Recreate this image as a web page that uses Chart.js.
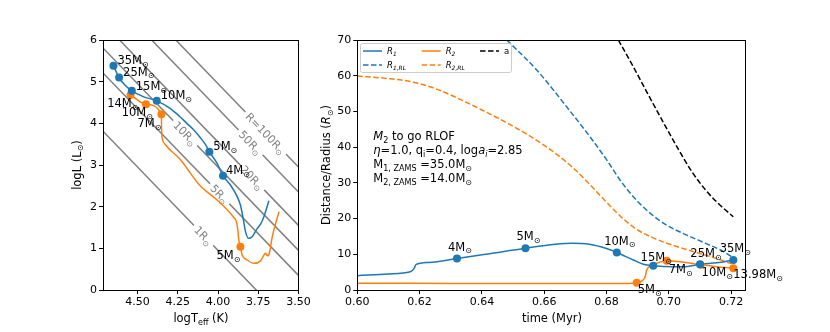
<!DOCTYPE html>
<html>
<head>
<meta charset="utf-8">
<script src="https://cdn.jsdelivr.net/npm/chart.js@4.4.1/dist/chart.umd.min.js"></script>
<style>
  body { margin: 0; background: #fff; }
  #wrap { position: relative; width: 830px; height: 332px; }
  canvas { position: absolute; top: 0; }
</style>
</head>
<body>
<div id="wrap">
  <canvas id="hrChart" width="330" height="332" style="left:0"></canvas>
  <canvas id="radChart" width="520" height="332" style="left:310px"></canvas>
</div>
<script>
/* ===== DATA: left panel (HR diagram) ===== */
const hrTicksX = [4.5, 4.25, 4.0, 3.75, 3.5];
const hrTicksY = [0, 1, 2, 3, 4, 5, 6];

// star 1 track (logTeff, logL)
const hr1T = [4.650, 4.615, 4.579, 4.536, 4.465, 4.381, 4.298, 4.240, 4.194, 4.150, 4.111, 4.080, 4.054, 4.006, 3.969, 3.923, 3.881, 3.861, 3.844, 3.829, 3.812, 3.788, 3.756, 3.736, 3.715, 3.684];
const hr1L = [5.38, 5.10, 4.92, 4.78, 4.64, 4.54, 4.36, 4.17, 4.00, 3.84, 3.66, 3.50, 3.32, 3.04, 2.74, 2.52, 2.24, 2.04, 1.72, 1.40, 1.24, 1.28, 1.48, 1.58, 1.76, 2.14];
const hr1MarkT = [4.650, 4.615, 4.536, 4.381, 4.054, 3.969];
const hr1MarkL = [5.38, 5.10, 4.78, 4.54, 3.32, 2.74];
const hr1MarkM = ['35', '25', '15', '10', '5', '4'];

// star 2 track
const hr2T = [4.544, 4.448, 4.352, 4.351, 4.347, 4.325, 4.236, 4.111, 4.006, 3.902, 3.886, 3.877, 3.871, 3.861, 3.850, 3.819, 3.777, 3.736, 3.704, 3.692, 3.680, 3.663, 3.621];
const hr2L = [4.68, 4.46, 4.22, 3.84, 3.64, 3.48, 3.14, 2.50, 2.16, 1.74, 1.64, 1.44, 1.20, 1.04, 0.84, 0.72, 0.64, 0.70, 0.88, 0.82, 0.90, 1.28, 1.88];
const hr2MarkT = [4.544, 4.448, 4.352, 3.861];
const hr2MarkL = [4.68, 4.46, 4.22, 1.04];
const hr2MarkM = ['14', '10', '7', '5'];

// constant-radius lines: logL at the two edges of the plot
const radii = ['1', '5', '10', '20', '50', '100'];
const radEdgeT = [4.715, 3.5];
const radLeftL = [3.81, 5.21, 5.81, 6.41, 7.21, 7.81];
const radRightL = [-1.05, 0.35, 0.95, 1.55, 2.35, 2.95];
const radLabelT = [4.09, 3.99, 4.204, 3.788, 3.798, 3.704];

/* ===== DATA: right panel (distance / radius vs time) ===== */
const tTicks = [0.60, 0.62, 0.64, 0.66, 0.68, 0.70, 0.72];
const rTicks = [0, 10, 20, 30, 40, 50, 60, 70];

const r1T = [0.600, 0.610, 0.617, 0.6183, 0.6188, 0.623, 0.632, 0.642, 0.654, 0.6635, 0.669, 0.6745, 0.680, 0.6833, 0.6886, 0.6918, 0.695, 0.7014, 0.706, 0.710, 0.7154, 0.7207];
const r1V = [4.0, 4.5, 5.1, 6.1, 7.1, 7.7, 8.8, 10.1, 11.7, 12.8, 13.1, 12.8, 11.6, 10.5, 8.4, 7.2, 6.8, 6.5, 6.6, 7.2, 7.6, 8.4];
const rl1T = [0.648, 0.6576, 0.6672, 0.6747, 0.680, 0.685, 0.690, 0.695, 0.700, 0.706, 0.712, 0.717, 0.7207];
const rl1V = [70, 61.6, 51.3, 42.9, 36.5, 30.0, 24.8, 20.8, 17.8, 15.3, 13.0, 11.0, 9.0];

const r2T = [0.600, 0.630, 0.660, 0.686, 0.6897, 0.6913, 0.6924, 0.6929, 0.6940, 0.6961, 0.6993, 0.7047, 0.7102, 0.7154, 0.7207];
const r2V = [1.9, 1.85, 1.8, 1.8, 2.0, 2.5, 3.7, 5.6, 6.7, 7.5, 8.2, 7.8, 7.1, 6.5, 6.1];
const rl2T = [0.600, 0.610, 0.618, 0.625, 0.632, 0.640, 0.648, 0.656, 0.664, 0.670, 0.675, 0.680, 0.685, 0.690, 0.695, 0.700, 0.705, 0.710, 0.715, 0.720];
const rl2V = [59.9, 59.2, 58.2, 56.4, 53.8, 50.4, 46.8, 42.8, 38.0, 33.6, 29.2, 24.6, 20.2, 16.8, 14.6, 12.9, 11.5, 10.2, 8.9, 7.4];

const aT = [0.6838, 0.6886, 0.6929, 0.6982, 0.7030, 0.7075, 0.7120, 0.7164, 0.7207];
const aV = [70, 62.5, 55.5, 47.0, 39.5, 33.0, 27.8, 23.8, 20.5];

const m1T = [0.632, 0.654, 0.6833, 0.695, 0.710, 0.7207];
const m1V = [8.8, 11.7, 10.5, 6.8, 7.2, 8.4];
const m1M = ['4', '5', '10', '15', '25', '35'];
const m2T = [0.6897, 0.6993, 0.7102, 0.7207];
const m2V = [2.0, 8.2, 7.1, 6.1];
const m2M = ['5', '7', '10', '13.98'];

/* ===== helpers ===== */
const FONT = '"DejaVu Sans", sans-serif';
const C0 = '#1f77b4', C1 = '#ff7f0e', GREY = '#808080';
const TXT = 11.5;
const pts = (xs, ys) => xs.map((x, i) => ({ x, y: ys[i] }));
const massParts = m => [{ t: m + 'M' }, { t: '\u2299', s: 1 }];

// draw text made of parts (italic / subscript), y is the middle of the main text
function rich(ctx, parts, x, y, size, align, color) {
  const base = y + size * 0.36;
  let w = 0;
  const fonts = parts.map(p => {
    const fs = p.s ? size * 0.7 : size;
    const f = (p.i ? 'italic ' : '') + fs + 'px ' + FONT;
    ctx.font = f;
    const pw = ctx.measureText(p.t).width;
    w += pw;
    return { f, pw };
  });
  let cx = align === 'center' ? x - w / 2 : align === 'right' ? x - w : x;
  ctx.fillStyle = color || '#000';
  ctx.textAlign = 'left';
  ctx.textBaseline = 'alphabetic';
  parts.forEach((p, i) => {
    ctx.font = fonts[i].f;
    ctx.fillText(p.t, cx, p.s ? base + size * 0.24 : base);
    cx += fonts[i].pw;
  });
  return w;
}

function axis(min, max, ticks, fmt, size, reverse) {
  return {
    type: 'linear', min, max, reverse: !!reverse,
    afterBuildTicks: s => { s.ticks = ticks.map(v => ({ value: v })); },
    afterFit: s => { if (s.isHorizontal()) s.height = size; else s.width = size; },
    grid: { drawOnChartArea: false, drawTicks: true, tickLength: 4, color: '#000', lineWidth: 1 },
    border: { display: false },
    ticks: { color: '#000', font: { family: FONT, size: 11 }, padding: 2, autoSkip: false, maxRotation: 0, callback: fmt }
  };
}

const framePlugin = {
  id: 'frame',
  afterDraw(chart) {
    const a = chart.chartArea, ctx = chart.ctx;
    ctx.save();
    ctx.strokeStyle = '#000';
    ctx.lineWidth = 1;
    ctx.strokeRect(Math.round(a.left) + 0.5, Math.round(a.top) + 0.5, Math.round(a.right - a.left) - 1, Math.round(a.bottom - a.top));
    ctx.restore();
  }
};

// mass labels beside the markers
const massLabelPlugin = {
  id: 'massLabels',
  afterDatasetsDraw(chart) {
    const ctx = chart.ctx;
    chart.data.datasets.forEach((ds, di) => {
      if (!ds.masses) return;
      const meta = chart.getDatasetMeta(di);
      ctx.save();
      ds.masses.forEach((m, i) => {
        const p = meta.data[i];
        const off = ds.offsets[i];
        rich(ctx, massParts(m), p.x + off[0], p.y + off[1], TXT, ds.align, '#000');
      });
      ctx.restore();
    });
  }
};

const lineBase = { borderWidth: 1.5, pointRadius: 0, fill: false, cubicInterpolationMode: 'monotone' };
const markBase = { showLine: false, pointRadius: 4, pointBorderWidth: 0, order: -1 };

/* ===== LEFT: HR diagram ===== */
const hrDatasets = [
  { ...lineBase, data: pts(hr1T, hr1L), borderColor: C0 },
  { ...lineBase, data: pts(hr2T, hr2L), borderColor: C1 },
  { ...markBase, data: pts(hr1MarkT, hr1MarkL), pointBackgroundColor: C0, masses: hr1MarkM, align: 'left',
    offsets: [[4, -6], [4, -6], [4, -5], [4, -6], [4, -6], [3, -6]] },
  { ...markBase, data: pts(hr2MarkT, hr2MarkL), pointBackgroundColor: C1, masses: hr2MarkM, align: 'right',
    offsets: [[8, 8], [7, 8], [0, 9], [0, 8]] }
];
const firstGrey = hrDatasets.length;
radii.forEach((r, i) => {
  hrDatasets.push({
    data: [{ x: radEdgeT[0], y: radLeftL[i] }, { x: radEdgeT[1], y: radRightL[i] }],
    borderColor: GREY, borderWidth: 1.5, pointRadius: 0, order: 1,
    radiusLabel: r, labelT: radLabelT[i]
  });
});

// gaps + labels on the constant radius lines, drawn right after the grey lines
const radiusLabelPlugin = {
  id: 'radiusLabels',
  afterDatasetDraw(chart, args) {
    if (args.index !== firstGrey) return;
    const ctx = chart.ctx, xs = chart.scales.x;
    ctx.save();
    chart.data.datasets.forEach((ds, di) => {
      if (!ds.radiusLabel) return;
      const meta = chart.getDatasetMeta(di);
      const p0 = meta.data[0], p1 = meta.data[1];
      const ang = Math.atan2(p1.y - p0.y, p1.x - p0.x);
      const cx = xs.getPixelForValue(ds.labelT);
      const cy = p0.y + (cx - p0.x) * (p1.y - p0.y) / (p1.x - p0.x);
      const parts = ds.radiusLabel === '100'
        ? [{ t: 'R=100R' }, { t: '\u2299', s: 1 }]
        : [{ t: ds.radiusLabel + 'R' }, { t: '\u2299', s: 1 }];
      ctx.save();
      ctx.translate(cx, cy);
      ctx.rotate(ang);
      ctx.font = '11px ' + FONT;
      const w = ctx.measureText(parts[0].t).width + 7;
      ctx.fillStyle = '#fff';
      ctx.fillRect(-w / 2 - 3, -5, w + 6, 10);
      rich(ctx, parts, 0, 0, 11, 'center', GREY);
      ctx.restore();
    });
    ctx.restore();
  }
};

const hrTitles = {
  id: 'hrTitles',
  afterDraw(chart) {
    const ctx = chart.ctx;
    ctx.save();
    rich(ctx, [{ t: 'logT' }, { t: 'eff', s: 1 }, { t: ' (K)' }], 201, 318, TXT, 'center');
    ctx.translate(76.5, 165);
    ctx.rotate(-Math.PI / 2);
    rich(ctx, [{ t: 'logL (L' }, { t: '\u2299', s: 1 }, { t: ')' }], 0, 0, TXT, 'center');
    ctx.restore();
  }
};

new Chart(document.getElementById('hrChart'), {
  type: 'line',
  data: { datasets: hrDatasets },
  options: {
    responsive: false, animation: false, events: [],
    layout: { padding: { top: 40, right: 31.5, left: 0, bottom: 0 } },
    plugins: { legend: { display: false }, tooltip: { enabled: false } },
    scales: {
      x: axis(3.5, 4.715, hrTicksX, v => v.toFixed(2), 42, true),
      y: axis(0, 6, hrTicksY, v => String(v), 103)
    }
  },
  plugins: [radiusLabelPlugin, massLabelPlugin, framePlugin, hrTitles]
});

/* ===== RIGHT: distance / radius vs time ===== */
const radDatasets = [
  { ...lineBase, label: 'R1', data: pts(r1T, r1V), borderColor: C0 },
  { ...lineBase, label: 'R1,RL', data: pts(rl1T, rl1V), borderColor: C0, borderDash: [5.5, 2.5] },
  { ...lineBase, label: 'R2', data: pts(r2T, r2V), borderColor: C1 },
  { ...lineBase, label: 'R2,RL', data: pts(rl2T, rl2V), borderColor: C1, borderDash: [5.5, 2.5] },
  { ...lineBase, label: 'a', data: pts(aT, aV), borderColor: '#000', borderDash: [5.5, 2.5] },
  { ...markBase, data: pts(m1T, m1V), pointBackgroundColor: C0, masses: m1M, align: 'center',
    offsets: [[3, -12], [3, -12], [3, -12], [3, -9], [6, -11], [2, -12]] },
  { ...markBase, data: pts(m2T, m2V), pointBackgroundColor: C1, masses: m2M, align: 'left',
    offsets: [[1, 6], [2, 8], [1, 7], [0, 6]] }
];

const legendParts = [
  [{ t: 'R', i: 1 }, { t: '1', s: 1, i: 1 }],
  [{ t: 'R', i: 1 }, { t: '1,RL', s: 1, i: 1 }],
  [{ t: 'R', i: 1 }, { t: '2', s: 1, i: 1 }],
  [{ t: 'R', i: 1 }, { t: '2,RL', s: 1, i: 1 }],
  [{ t: 'a' }]
];

const radDeco = {
  id: 'radDeco',
  afterDraw(chart) {
    const ctx = chart.ctx;
    ctx.save();
    // legend, 3 columns filled top to bottom
    const bx = 50.5, by = 43.5, bw = 151, bh = 29;
    ctx.beginPath();
    ctx.roundRect(bx, by, bw, bh, 2);
    ctx.fillStyle = 'rgba(255,255,255,0.8)';
    ctx.fill();
    ctx.strokeStyle = '#cccccc';
    ctx.lineWidth = 1;
    ctx.stroke();
    const colX = [53, 111.7, 170], rowY = [51, 65];
    legendParts.forEach((parts, i) => {
      const ds = chart.data.datasets[i];
      const x = colX[Math.floor(i / 2)], y = rowY[i % 2];
      ctx.beginPath();
      ctx.setLineDash(ds.borderDash || []);
      ctx.strokeStyle = ds.borderColor;
      ctx.lineWidth = 1.5;
      ctx.moveTo(x, y);
      ctx.lineTo(x + 19, y);
      ctx.stroke();
      ctx.setLineDash([]);
      rich(ctx, parts, x + 24, y, 8.5, 'left');
    });
    // text block
    const tx = 63.3;
    rich(ctx, [{ t: 'M', i: 1 }, { t: '2', s: 1 }, { t: ' to go RLOF' }], tx, 136, TXT, 'left');
    rich(ctx, [{ t: '\u03b7', i: 1 }, { t: '=1.0, q' }, { t: 'i', s: 1 }, { t: '=0.4, log' }, { t: 'a', i: 1 }, { t: 'i', s: 1, i: 1 }, { t: '=2.85' }], tx, 150, TXT, 'left');
    rich(ctx, [{ t: 'M' }, { t: '1, ZAMS', s: 1 }, { t: ' =35.0M' }, { t: '\u2299', s: 1 }], tx, 164, TXT, 'left');
    rich(ctx, [{ t: 'M' }, { t: '2, ZAMS', s: 1 }, { t: ' =14.0M' }, { t: '\u2299', s: 1 }], tx, 178, TXT, 'left');
    // axis titles
    rich(ctx, [{ t: 'time (Myr)' }], 242, 318, TXT, 'center');
    ctx.translate(16, 165);
    ctx.rotate(-Math.PI / 2);
    rich(ctx, [{ t: 'Distance/Radius (' }, { t: 'R', i: 1 }, { t: '\u2299', s: 1 }, { t: ')' }], 0, 0, TXT, 'center');
    ctx.restore();
  }
};

new Chart(document.getElementById('radChart'), {
  type: 'line',
  data: { datasets: radDatasets },
  options: {
    responsive: false, animation: false, events: [],
    layout: { padding: { top: 40, right: 83.3, left: 0, bottom: 0 } },
    plugins: { legend: { display: false }, tooltip: { enabled: false } },
    scales: {
      x: axis(0.60, 0.725, tTicks, v => v.toFixed(2), 42),
      y: axis(0, 70, rTicks, v => String(v), 47.3)
    }
  },
  plugins: [massLabelPlugin, framePlugin, radDeco]
});
</script>
</body>
</html>
